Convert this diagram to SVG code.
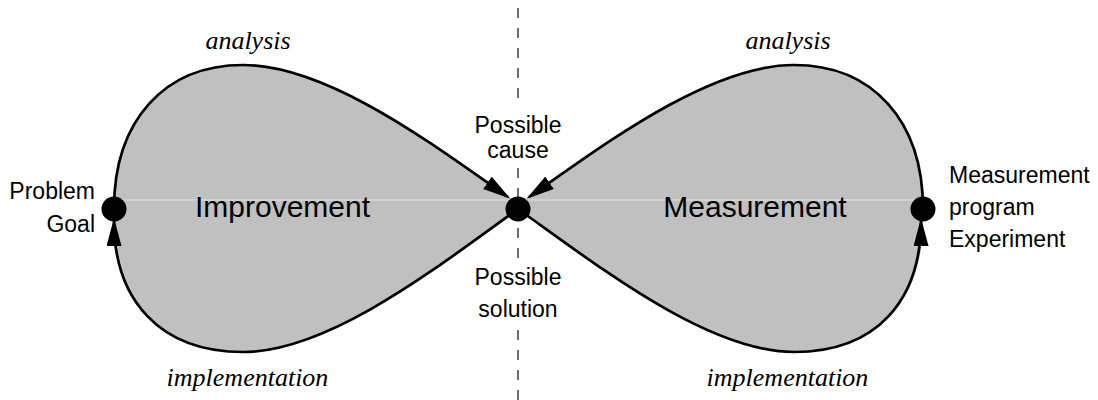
<svg xmlns="http://www.w3.org/2000/svg" width="1098" height="400" viewBox="0 0 1098 400">
<style>
.fill{fill:#c0c0c0;stroke:none}
.curve{fill:none;stroke:#000;stroke-width:2.7;marker-end:url(#arrow)}
.node{fill:#000}
.lbl{font-family:"Liberation Sans",Arial,sans-serif;font-size:23px;fill:#000}
.big{font-family:"Liberation Sans",Arial,sans-serif;font-size:30px;fill:#000;text-anchor:middle}
.it{font-family:"Liberation Serif","Times New Roman",serif;font-style:italic;font-size:26px;fill:#000;text-anchor:middle}
.dash{stroke:#222;stroke-width:1.3;stroke-dasharray:10 10;fill:none}
</style>
<defs>
<marker id="arrow" markerUnits="userSpaceOnUse" markerWidth="30" markerHeight="16" refX="25" refY="7.5" orient="auto">
<path d="M0,0 L28,7.5 L0,15 z" fill="#000"/>
</marker>
</defs>
<rect width="1098" height="400" fill="#fff"/>
<g id="divider">
<line class="dash" x1="518" y1="8" x2="518" y2="100"/>
<line class="dash" x1="518" y1="168" x2="518" y2="258"/>
<line class="dash" x1="518" y1="330" x2="518" y2="400"/>
</g>
<g id="loops">
<path class="fill" d="M114 209 C114 120 165 65 243 65 C330 65 440 150 508 197 L518 209 C440 265 330 352 243 352 C160 352 114 300 114 222 Z"/>
<path class="fill" d="M923 209 C923 120 872 65 794 65 C707 65 597 150 529 197 L518 209 C597 265 707 352 794 352 C877 352 923 300 923 222 Z"/>
<line x1="114" y1="200" x2="923" y2="200" stroke="#e2e2e2" stroke-width="1"/>
<text class="big" x="282.5" y="217">Improvement</text>
<text class="big" x="755" y="217">Measurement</text>
<text class="it" x="248" y="49">analysis</text>
<text class="it" x="788" y="49">analysis</text>
<text class="it" x="247.5" y="386">implementation</text>
<text class="it" x="787.5" y="386">implementation</text>
</g>
<g id="connectors">
<path class="curve" d="M114 209 C114 120 165 65 243 65 C330 65 440 150 508 197"/>
<path class="curve" d="M923 209 C923 120 872 65 794 65 C707 65 597 150 529 197"/>
<path class="curve" d="M518 209 C440 265 330 352 243 352 C160 352 114 300 114 221"/>
<path class="curve" d="M518 209 C597 265 707 352 794 352 C877 352 921 300 921 221"/>
</g>
<g id="node-problem">
<circle class="node" cx="114" cy="209" r="12.5"/>
<text class="lbl" x="95" y="199" text-anchor="end">Problem</text>
<text class="lbl" x="95" y="232" text-anchor="end">Goal</text>
</g>
<g id="node-center">
<circle class="node" cx="518" cy="209" r="12.5"/>
<text class="lbl" x="518" y="133" text-anchor="middle">Possible</text>
<text class="lbl" x="518" y="158" text-anchor="middle">cause</text>
<text class="lbl" x="518" y="285" text-anchor="middle">Possible</text>
<text class="lbl" x="518" y="317" text-anchor="middle">solution</text>
</g>
<g id="node-measurement">
<circle class="node" cx="923" cy="209" r="12.5"/>
<text class="lbl" x="949" y="183">Measurement</text>
<text class="lbl" x="949" y="215">program</text>
<text class="lbl" x="949" y="247">Experiment</text>
</g>
</svg>
